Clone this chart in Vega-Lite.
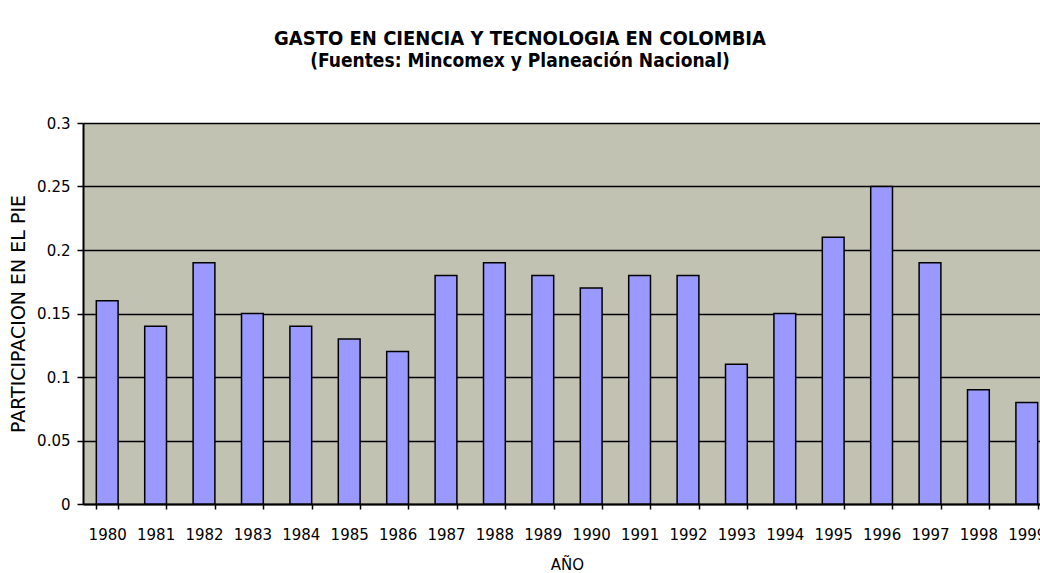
{
  "$schema": "https://vega.github.io/schema/vega-lite/v6.json",
  "width": 968,
  "height": 381,
  "autosize": "none",
  "padding": {"left": 83, "top": 123, "right": 0, "bottom": 69},
  "background": "white",
  "title": {
    "text": "GASTO EN CIENCIA Y TECNOLOGIA EN COLOMBIA",
    "subtitle": "(Fuentes: Mincomex y Planeación Nacional)",
    "anchor": "middle",
    "dx": -47,
    "offset": 45,
    "font": "DejaVu Sans Condensed, DejaVu Sans, sans-serif",
    "fontSize": 20,
    "fontWeight": "bold",
    "color": "black",
    "subtitleFont": "DejaVu Sans Condensed, DejaVu Sans, sans-serif",
    "subtitleFontSize": 19,
    "subtitleFontWeight": "bold",
    "subtitleColor": "black",
    "subtitlePadding": 3
  },
  "data": {
    "values": [
      {"year": "1980", "value": 0.16},
      {"year": "1981", "value": 0.14},
      {"year": "1982", "value": 0.19},
      {"year": "1983", "value": 0.15},
      {"year": "1984", "value": 0.14},
      {"year": "1985", "value": 0.13},
      {"year": "1986", "value": 0.12},
      {"year": "1987", "value": 0.18},
      {"year": "1988", "value": 0.19},
      {"year": "1989", "value": 0.18},
      {"year": "1990", "value": 0.17},
      {"year": "1991", "value": 0.18},
      {"year": "1992", "value": 0.18},
      {"year": "1993", "value": 0.11},
      {"year": "1994", "value": 0.15},
      {"year": "1995", "value": 0.21},
      {"year": "1996", "value": 0.25},
      {"year": "1997", "value": 0.19},
      {"year": "1998", "value": 0.09},
      {"year": "1999", "value": 0.08}
    ]
  },
  "mark": {"type": "bar", "fill": "#9999ff", "stroke": "black", "strokeWidth": 1.5},
  "encoding": {
    "x": {
      "field": "year",
      "type": "ordinal",
      "scale": {"paddingInner": 0.55, "paddingOuter": 0.275},
      "axis": {
        "title": "AÑO",
        "titleFont": "DejaVu Sans, sans-serif",
        "titleFontSize": 15,
        "titleFontWeight": "normal",
        "titleColor": "black",
        "titlePadding": 15,
        "labelAngle": 0,
        "labelFont": "DejaVu Sans, sans-serif",
        "labelFontSize": 15,
        "labelColor": "black",
        "labelPadding": 18,
        "tickBand": "extent",
        "tickColor": "black",
        "tickWidth": 1.5,
        "tickSize": 5,
        "domainColor": "black",
        "domainWidth": 2,
        "grid": false
      }
    },
    "y": {
      "field": "value",
      "type": "quantitative",
      "scale": {"domain": [0, 0.3], "nice": false},
      "axis": {
        "title": "PARTICIPACION EN EL PIE",
        "titleFont": "DejaVu Sans, sans-serif",
        "titleFontSize": 19,
        "titleFontWeight": "normal",
        "titleColor": "black",
        "titlePadding": 8,
        "values": [0, 0.05, 0.1, 0.15, 0.2, 0.25, 0.3],
        "format": "~g",
        "labelFont": "DejaVu Sans, sans-serif",
        "labelFontSize": 15,
        "labelColor": "black",
        "labelPadding": 7,
        "tickColor": "black",
        "tickWidth": 1.5,
        "tickSize": 6,
        "domainColor": "black",
        "domainWidth": 2,
        "grid": true,
        "gridColor": "black",
        "gridWidth": 1.5,
        "gridOpacity": 1
      }
    }
  },
  "config": {
    "view": {"fill": "#c2c2b2", "stroke": null}
  }
}
